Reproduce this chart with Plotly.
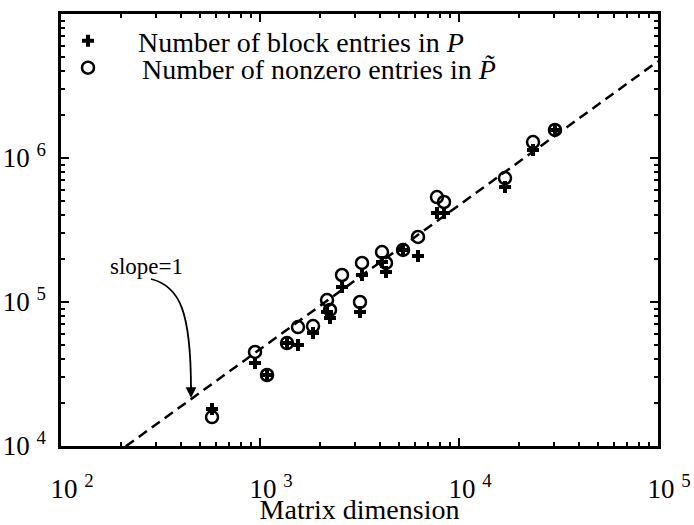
import plotly.graph_objects as go

# Matrix dimension for each test matrix
dims = [574, 944, 1085, 1367, 1552, 1847, 2172, 2248, 2583, 3180, 3255,
        4103, 4297, 5233, 6223, 7749, 8409, 17030, 23550, 30350]
# Number of block entries in P
block_entries = [18070, 37700, 31120, 51900, 50250, 60900, 85300, 77400, 127000,
                 85300, 154000, 189600, 161600, 229700, 208600, 415000, 415000,
                 629000, 1137000, 1565000]
# Number of nonzero entries in P~
nonzero_entries = [15890, 44960, 31120, 51900, 67000, 68100, 103200, 88000, 154000,
                   100000, 186600, 222400, 186600, 229700, 282800, 535800, 494800,
                   726000, 1291000, 1565000]

# reference line y = c * x (slope 1 in log-log)
ref_x = [100, 100000]
ref_c = 47
ref_y = [ref_c * v for v in ref_x]

x_tickvals = [100, 1000, 10000, 100000]
x_ticktext = ["10 <sup>2</sup>", "10 <sup>3</sup>", "10 <sup>4</sup>", "10 <sup>5</sup>"]
y_tickvals = [10000, 100000, 1000000, 10000000]
y_ticktext = ["10 <sup>4</sup>", "10 <sup>5</sup>", "10 <sup>6</sup>", "10 <sup>7</sup>"]

FONT = "Liberation Serif"
L, R, T, B = 61, 658, 14, 446
PW, PH = R - L, B - T

def px2paper(px, py):
    return (px - L) / PW, (B - py) / PH

fig = go.Figure()
fig.add_trace(go.Scatter(
    x=ref_x, y=ref_y, mode="lines", showlegend=False,
    line=dict(color="black", width=2.5, dash="10px,6px")))
fig.add_trace(go.Scatter(
    x=dims, y=block_entries, mode="markers",
    name="Number of block entries in <i>P</i>", legend="legend",
    marker=dict(symbol="cross", size=10, color="black")))
fig.add_trace(go.Scatter(
    x=dims, y=nonzero_entries, mode="markers",
    name="Number of nonzero entries in <i>P\u0303</i>", legend="legend2",
    marker=dict(symbol="circle-open", size=12, color="black",
                line=dict(width=2.5, color="black"))))

axis_common = dict(
    type="log", showgrid=False, zeroline=False, automargin=False,
    showline=True, linecolor="black", linewidth=2.5, mirror="allticks",
    ticks="inside", ticklen=8, tickwidth=2, tickcolor="black",
    minor=dict(ticks="inside", ticklen=4, tickwidth=1.5, tickcolor="black",
               dtick="D1", showgrid=False),
    tickfont=dict(family=FONT, size=27, color="black"),
)

fig.update_xaxes(range=[2, 5], tickvals=x_tickvals, ticktext=x_ticktext,
                 title=dict(text="Matrix dimension",
                            font=dict(family=FONT, size=28, color="black")),
                 ticklabelstandoff=17, ticklabelshift=11, **axis_common)
fig.update_yaxes(range=[4, 7], tickvals=y_tickvals, ticktext=y_ticktext,
                 ticklabelstandoff=7, **axis_common)

# curved arrow for "slope=1"
p0 = px2paper(151, 279)
c1 = px2paper(180, 286)
c2 = px2paper(191, 312)
p1 = px2paper(191, 390)
fig.add_shape(type="path", xref="paper", yref="paper",
              path=f"M {p0[0]},{p0[1]} C {c1[0]},{c1[1]} {c2[0]},{c2[1]} {p1[0]},{p1[1]}",
              line=dict(color="black", width=1.8))
ah = px2paper(191, 398)
fig.add_annotation(xref="paper", yref="paper", x=ah[0], y=ah[1], text="",
                   showarrow=True, ax=0, ay=-14, arrowhead=2, arrowsize=1.2,
                   arrowwidth=1.8, arrowcolor="black")
tp = px2paper(146, 266)
fig.add_annotation(xref="paper", yref="paper", x=tp[0], y=tp[1], text="slope=1",
                   xanchor="center", yanchor="middle", showarrow=False,
                   font=dict(family=FONT, size=23, color="black"))

leg1 = px2paper(38, 41)
leg2 = px2paper(34, 68)
legend_common = dict(xanchor="left", yanchor="middle", bgcolor="rgba(0,0,0,0)",
                     font=dict(family=FONT, size=28, color="black"))
fig.update_layout(
    width=694, height=525,
    margin=dict(l=L, r=694 - R, t=T, b=525 - B, autoexpand=False),
    paper_bgcolor="white", plot_bgcolor="white",
    font=dict(family=FONT, color="black"),
    legend=dict(x=leg1[0], y=leg1[1], itemwidth=90, **legend_common),
    legend2=dict(x=leg2[0], y=leg2[1], itemwidth=98, **legend_common),
)

fig.write_html("out.html", config={"displayModeBar": False},
               post_script="document.body.style.margin='0';document.body.style.overflow='hidden';")
